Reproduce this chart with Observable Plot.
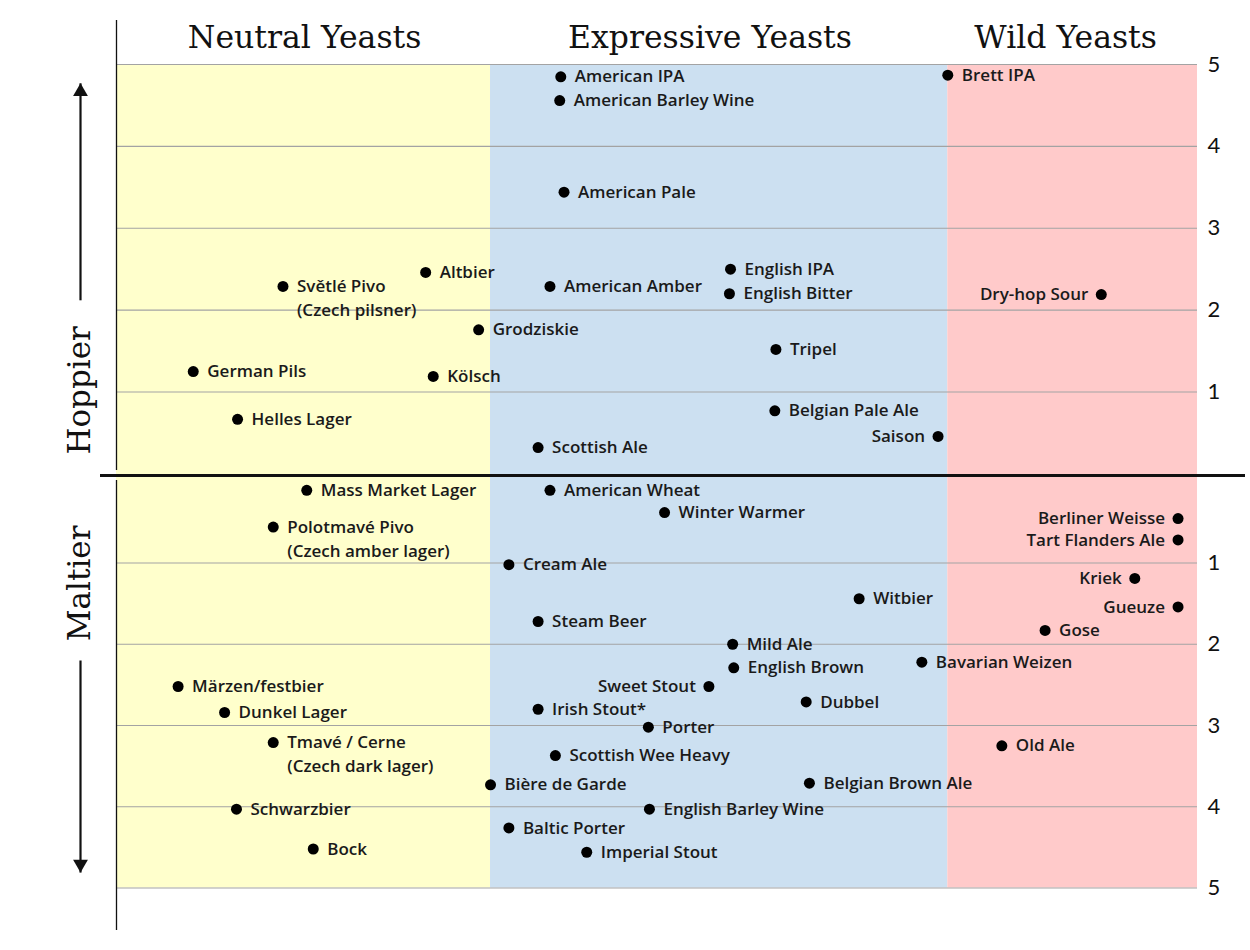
<!DOCTYPE html>
<html>
<head>
<meta charset="utf-8">
<script src="https://cdn.jsdelivr.net/npm/d3@7"></script>
<script src="https://cdn.jsdelivr.net/npm/@observablehq/plot@0.6"></script>
<style>
  body { margin: 0; background: #fff; }
  #chart svg { display: block; }
</style>
</head>
<body>
<div id="chart"></div>
<script>
// ---- yeast categories (x is a 0–100 "yeast character" scale) ----
const yeastGroups = ["Neutral Yeasts", "Expressive Yeasts", "Wild Yeasts"];
const groupStart = [0, 34.6, 76.9];
const groupEnd = [34.6, 76.9, 100];
const groupLabelX = [17.4, 54.9, 87.8];
const groupColors = ["#ffffcc", "#cce0f1", "#ffcaca"];

// ---- hoppier styles (score 0–5 upward) ----
const hoppyNames = ["American IPA", "American Barley Wine", "Brett IPA", "American Pale", "Altbier",
  "Světlé Pivo\n(Czech pilsner)", "American Amber", "English IPA", "English Bitter", "Dry-hop Sour",
  "Grodziskie", "German Pils", "Kölsch", "Tripel", "Helles Lager", "Belgian Pale Ale", "Saison", "Scottish Ale"];
const hoppyX = [41.1, 41.0, 76.9, 41.4, 28.6, 15.4, 40.1, 56.8, 56.7, 91.1,
  33.5, 7.1, 29.3, 61.0, 11.2, 60.9, 76.0, 39.0];
const hoppyScore = [4.85, 4.56, 4.87, 3.44, 2.46, 2.29, 2.29, 2.50, 2.20, 2.19,
  1.76, 1.25, 1.19, 1.52, 0.68, 0.78, 0.48, 0.35];

// ---- maltier styles (score 0–5 downward) ----
const maltyNames = ["Mass Market Lager", "American Wheat", "Winter Warmer", "Polotmavé Pivo\n(Czech amber lager)",
  "Berliner Weisse", "Tart Flanders Ale", "Cream Ale", "Kriek", "Witbier", "Gueuze", "Steam Beer", "Gose",
  "Mild Ale", "Bavarian Weizen", "English Brown", "Märzen/festbier", "Sweet Stout", "Dubbel", "Dunkel Lager",
  "Irish Stout*", "Porter", "Tmavé / Cerne\n(Czech dark lager)", "Old Ale", "Scottish Wee Heavy",
  "Bière de Garde", "Belgian Brown Ale", "Schwarzbier", "English Barley Wine", "Baltic Porter", "Bock", "Imperial Stout"];
const maltyX = [17.6, 40.1, 50.7, 14.5, 98.2, 98.2, 36.3, 94.2, 68.7, 98.2, 39.0, 85.9,
  57.0, 74.5, 57.1, 5.7, 54.8, 63.8, 10.0, 39.0, 49.2, 14.5, 81.9, 40.6,
  34.6, 64.1, 11.1, 49.3, 36.3, 18.2, 43.5];
const maltyScore = [0.15, 0.15, 0.41, 0.58, 0.48, 0.73, 1.02, 1.19, 1.44, 1.54, 1.72, 1.83,
  2.00, 2.22, 2.29, 2.52, 2.52, 2.71, 2.84, 2.80, 3.02, 3.21, 3.25, 3.37,
  3.73, 3.71, 4.03, 4.03, 4.26, 4.52, 4.56];

const labelOnLeft = ["Dry-hop Sour", "Saison", "Berliner Weisse", "Tart Flanders Ale", "Kriek", "Gueuze", "Sweet Stout"];

const scaleTicks = [1, 2, 3, 4, 5];
const sideLabels = ["Hoppier", "Maltier"];
const sideLabelPos = [1.02, -1.25];
const arrowFrom = [2.12, -2.2];
const arrowTo = [4.77, -4.81];

// ---- tables built from the arrays ----
const groups = yeastGroups.map((name, i) => ({name, x1: groupStart[i], x2: groupEnd[i], lx: groupLabelX[i], color: groupColors[i]}));
const beers = [
  ...hoppyNames.map((name, i) => ({name, x: hoppyX[i], y: hoppyScore[i]})),
  ...maltyNames.map((name, i) => ({name, x: maltyX[i], y: -maltyScore[i]}))
];
const rightLabeled = beers.filter(d => !labelOnLeft.includes(d.name));
const leftLabeled = beers.filter(d => labelOnLeft.includes(d.name));
const gridTicks = [...scaleTicks, ...scaleTicks.map(t => -t)];
const sides = sideLabels.map((t, i) => ({t, y: sideLabelPos[i], y1: arrowFrom[i], y2: arrowTo[i]}));
const upSide = sides.filter(d => d.y2 > 0);
const downSide = sides.filter(d => d.y2 < 0);

const labelFont = "'Open Sans', Lato, sans-serif";
const labelStyle = {fontSize: 17, fontWeight: 600, fontFamily: labelFont, fill: "#1a1a1a", lineAnchor: "top", lineHeight: 1.41, dy: -11.4};

const chart = Plot.plot({
  width: 1250,
  height: 950,
  marginLeft: 116,
  marginRight: 53,
  x: {domain: [0, 100], axis: null},
  y: {type: "linear", domain: [-5, -1, 1, 5], range: [887.5, 562.5, 391.5, 64], axis: null},
  color: {type: "identity"},
  style: {background: "#fff", overflow: "visible"},
  marks: [
    Plot.rect(groups, {x1: "x1", x2: "x2", y1: -5, y2: 5, fill: "color"}),
    Plot.ruleY(gridTicks, {stroke: "#a3a3a3", strokeWidth: 1.2}),
    Plot.ruleY([0], {stroke: "#111", strokeWidth: 3, insetLeft: -16, insetRight: -48, dy: -2}),
    Plot.ruleX([0], {y1: 5, y2: 0, insetTop: -44, insetBottom: 7, stroke: "#111", strokeWidth: 1.3}),
    Plot.ruleX([0], {y1: 0, y2: -5, insetTop: 3, insetBottom: -42.5, stroke: "#111", strokeWidth: 1.3}),
    Plot.text(groups, {x: "lx", y: 5, text: "name", dy: -27, fontSize: 31.5, fontFamily: "'DejaVu Serif', serif", fill: "#111"}),
    Plot.axisY(gridTicks, {anchor: "right", tickSize: 0, tickPadding: 10, tickFormat: d => Math.abs(d), fontSize: 22, fontFamily: "Lato, sans-serif", fill: "#111"}),
    Plot.text(sides, {x: 0, y: "y", text: "t", rotate: -90, dx: -36, fontSize: 31, fontFamily: "'DejaVu Serif', serif", fill: "#111"}),
    Plot.link(sides, {x1: 0, x2: 0, y1: "y1", y2: "y2", dx: -36, stroke: "#111", strokeWidth: 2.2}),
    Plot.dot(upSide, {x: 0, y: "y2", dx: -36, dy: 8.5, symbol: "triangle", r: 5.5, fill: "#111"}),
    Plot.dot(downSide, {x: 0, y: "y2", dx: -36, dy: -8.5, symbol: "triangle", r: 5.5, fill: "#111", rotate: 180}),
    Plot.dot(beers, {x: "x", y: "y", r: 5.5, fill: "#000"}),
    Plot.text(rightLabeled, {x: "x", y: "y", text: "name", textAnchor: "start", dx: 14, ...labelStyle}),
    Plot.text(leftLabeled, {x: "x", y: "y", text: "name", textAnchor: "end", dx: -13, ...labelStyle})
  ]
});
document.getElementById("chart").append(chart);
</script>
</body>
</html>
